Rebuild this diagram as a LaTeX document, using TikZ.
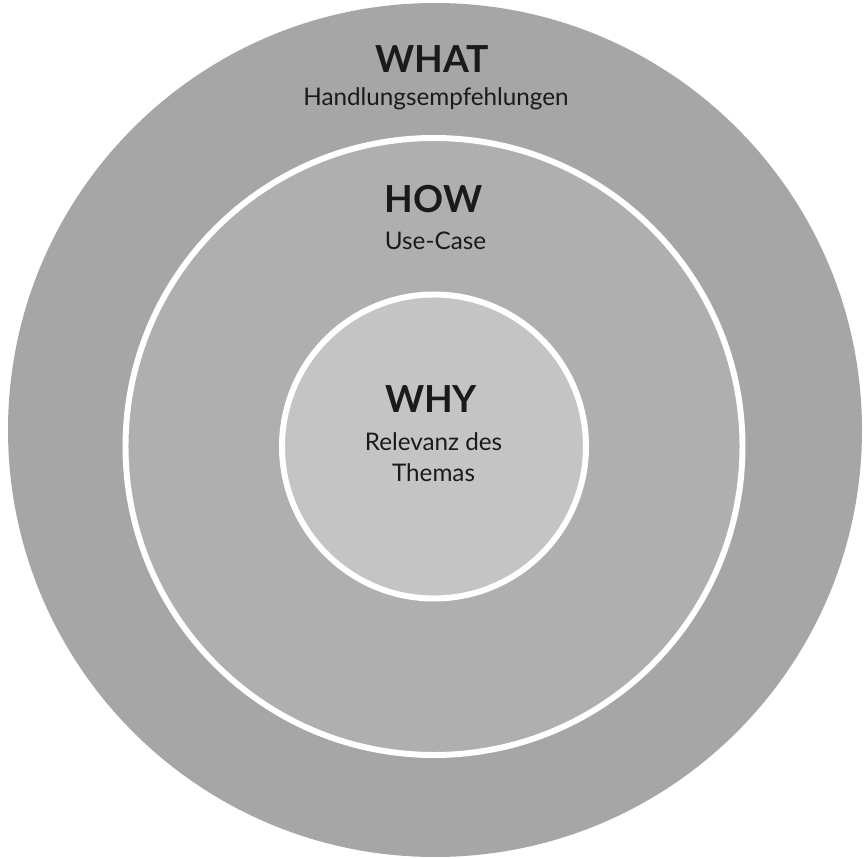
\documentclass[tikz,border=0pt]{standalone}
\usepackage{fontspec}
\setmainfont{Lato}
\definecolor{whatgray}{RGB}{166,166,166}
\definecolor{howgray}{RGB}{175,175,175}
\definecolor{whygray}{RGB}{196,196,196}
\definecolor{inktext}{RGB}{26,26,26}
\begin{document}
\begin{tikzpicture}[line join=round, line cap=round,
	head/.style={font=\fontsize{21.2}{25}\selectfont\bfseries, text=inktext, inner sep=0pt, anchor=base},
	sub/.style={font=\fontsize{13.8}{18.2}\selectfont, text=inktext, inner sep=0pt, anchor=base, align=center}]
	\useasboundingbox (0,0) rectangle (17.28,-17.18);
	\path 
	(8.70,-8.60) coordinate (O)
	(8.68,-8.93) coordinate (M)
	;
	\fill[whatgray] (O) circle (8.54cm);
	\filldraw[fill=howgray, draw=white, line width=3.4pt] (M) circle (6.17cm);
	\filldraw[fill=whygray, draw=white, line width=3.4pt] (M) circle (3.04cm);
	\node[head] (what) at (8.64,-1.46) {WHAT};
	\node[sub] (whattxt) at (8.72,-2.12) {Handlungsempfehlungen};
	\node[head] (how) at (8.67,-4.26) {HOW};
	\node[sub] (howtxt) at (8.71,-5.00) {Use-Case};
	\node[head] (why) at (8.62,-8.26) {WHY};
	\node[sub] (whytxt) at (8.67,-9.64) {Relevanz des\\Themas};
\end{tikzpicture}
\end{document}
